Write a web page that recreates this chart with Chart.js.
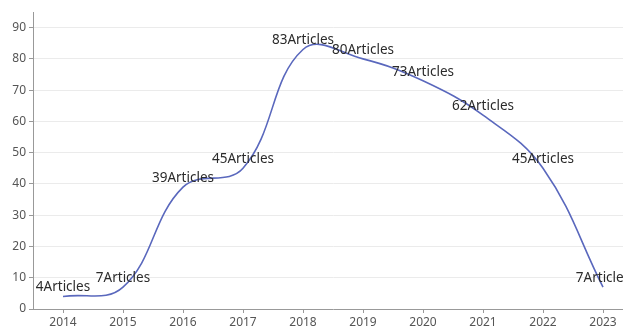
<!DOCTYPE html>
<html>
<head>
<meta charset="utf-8">
<script src="https://cdn.jsdelivr.net/npm/chart.js@4"></script>
<style>
  html, body { margin: 0; padding: 0; background: #fff; overflow: hidden; }
  #wrap { width: 633px; height: 329px; position: relative; }
</style>
</head>
<body>
<div id="wrap"><canvas id="grafico"></canvas></div>
<script>
var anios = ["2014", "2015", "2016", "2017", "2018", "2019", "2020", "2021", "2022", "2023"];
var articulos = [4, 7, 39, 45, 83, 80, 73, 62, 45, 7];
var sufijo = "Articles";
var colorLinea = "#5a68bd";

// etiquetas encima de cada punto
var etiquetas = {
    id: "etiquetas",
    afterDatasetsDraw: function (chart) {
        var ctx = chart.ctx;
        var meta = chart.getDatasetMeta(0);
        ctx.save();
        ctx.font = "13.5px 'Noto Sans'";
        ctx.fillStyle = "#2b2b2b";
        ctx.textAlign = "center";
        ctx.textBaseline = "middle";
        meta.data.forEach(function (p, i) {
            ctx.fillText(articulos[i] + sufijo, p.x, p.y - 9);
        });
        ctx.restore();
    }
};

var ctx = document.getElementById("grafico").getContext("2d");
var grafico = new Chart(ctx, {
    type: "line",
    data: {
        labels: anios,
        datasets: [{
            data: articulos,
            borderColor: colorLinea,
            borderWidth: 1.6,
            tension: 0.4,
            pointRadius: 0,
            fill: false
        }]
    },
    options: {
        responsive: true,
        maintainAspectRatio: false,
        animation: false,
        layout: { padding: { top: 12, right: 0, left: 0, bottom: 0 } },
        plugins: { legend: { display: false }, tooltip: { enabled: false } },
        scales: {
            x: {
                offset: true,
                grid: { drawOnChartArea: false, drawTicks: true, tickLength: 4, color: "#999" },
                border: { display: true, color: "#999", width: 1 },
                ticks: { color: "#555", font: { family: "Noto Sans", size: 12 }, padding: 2, maxRotation: 0 },
                afterFit: function (s) { s.height = 20; }
            },
            y: {
                min: 0,
                max: 95,
                afterBuildTicks: function (s) {
                    s.ticks = s.ticks.filter(function (t) { return t.value % 10 === 0; });
                },
                grid: { color: "#ebebeb", tickLength: 4, tickColor: "#999" },
                border: { display: true, color: "#999", width: 1 },
                ticks: { stepSize: 10, color: "#555", font: { family: "Noto Sans", size: 12 }, padding: 3 },
                afterFit: function (s) { s.width = 33; }
            }
        }
    },
    plugins: [etiquetas]
});
</script>
</body>
</html>
